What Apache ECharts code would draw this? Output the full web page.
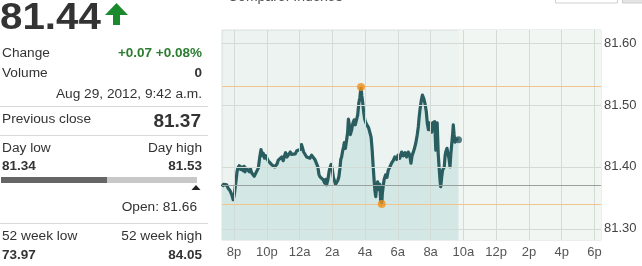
<!DOCTYPE html>
<html><head><meta charset="utf-8">
<script src="https://cdn.jsdelivr.net/npm/echarts@6/dist/echarts.min.js"></script>
<style>html,body{margin:0;padding:0;background:#fff}#c{width:642px;height:266px}</style>
</head><body><div id="c"></div>
<script>
// ---- data ----
const lastPrice = '81.44';
const changeText = '+0.07 +0.08%';
const volumeText = '0';
const stampText = 'Aug 29, 2012, 9:42 a.m.';
const prevClose = 81.37;
const dayLow = 81.34;
const dayHigh = 81.53;
const openText = 'Open: 81.66';
const week52Low = '73.97';
const week52High = '84.05';
const yTicks = [81.30, 81.40, 81.50, 81.60];
const xTicks = ['2012-08-28 20:00','2012-08-28 22:00','2012-08-29 00:00','2012-08-29 02:00','2012-08-29 04:00','2012-08-29 06:00',
  '2012-08-29 08:00','2012-08-29 10:00','2012-08-29 12:00','2012-08-29 14:00','2012-08-29 16:00','2012-08-29 18:00'];
const xTickLabels = ['8p','10p','12a','2a','4a','6a','8a','10a','12p','2p','4p','6p'];
const xStart = '2012-08-28 19:16';
const xEnd = '2012-08-29 18:24';
const times = [
'2012-08-28 19:16','2012-08-28 19:22','2012-08-28 19:28','2012-08-28 19:33','2012-08-28 19:38','2012-08-28 19:42','2012-08-28 19:45','2012-08-28 19:50','2012-08-28 19:54','2012-08-28 19:57',
'2012-08-28 20:01','2012-08-28 20:04','2012-08-28 20:08','2012-08-28 20:11','2012-08-28 20:14','2012-08-28 20:19','2012-08-28 20:24','2012-08-28 20:28','2012-08-28 20:33','2012-08-28 20:37',
'2012-08-28 20:40','2012-08-28 20:45','2012-08-28 20:51','2012-08-28 20:56','2012-08-28 21:00','2012-08-28 21:05','2012-08-28 21:10','2012-08-28 21:14','2012-08-28 21:17','2012-08-28 21:22',
'2012-08-28 21:29','2012-08-28 21:34','2012-08-28 21:39','2012-08-28 21:43','2012-08-28 21:47','2012-08-28 21:52','2012-08-28 21:56','2012-08-28 22:00','2012-08-28 22:05','2012-08-28 22:12',
'2012-08-28 22:17','2012-08-28 22:24','2012-08-28 22:29','2012-08-28 22:33','2012-08-28 22:38','2012-08-28 22:42','2012-08-28 22:48','2012-08-28 22:55','2012-08-28 23:00','2012-08-28 23:05',
'2012-08-28 23:09','2012-08-28 23:14','2012-08-28 23:21','2012-08-28 23:26','2012-08-28 23:31','2012-08-28 23:37','2012-08-28 23:44','2012-08-28 23:50','2012-08-28 23:55','2012-08-29 00:02',
'2012-08-29 00:07','2012-08-29 00:10','2012-08-29 00:15','2012-08-29 00:20','2012-08-29 00:26','2012-08-29 00:32','2012-08-29 00:38','2012-08-29 00:44','2012-08-29 00:50','2012-08-29 00:56',
'2012-08-29 01:03','2012-08-29 01:07','2012-08-29 01:11','2012-08-29 01:15','2012-08-29 01:21','2012-08-29 01:27','2012-08-29 01:32','2012-08-29 01:36','2012-08-29 01:39','2012-08-29 01:44',
'2012-08-29 01:48','2012-08-29 01:51','2012-08-29 01:56','2012-08-29 02:00','2012-08-29 02:04','2012-08-29 02:07','2012-08-29 02:12','2012-08-29 02:16','2012-08-29 02:20','2012-08-29 02:24',
'2012-08-29 02:28','2012-08-29 02:31','2012-08-29 02:34','2012-08-29 02:38','2012-08-29 02:41','2012-08-29 02:44','2012-08-29 02:48','2012-08-29 02:52','2012-08-29 02:56','2012-08-29 02:59',
'2012-08-29 03:02','2012-08-29 03:06','2012-08-29 03:11','2012-08-29 03:15','2012-08-29 03:20','2012-08-29 03:24','2012-08-29 03:29','2012-08-29 03:33','2012-08-29 03:37','2012-08-29 03:41',
'2012-08-29 03:45','2012-08-29 03:48','2012-08-29 03:51','2012-08-29 03:55','2012-08-29 03:59','2012-08-29 04:04','2012-08-29 04:09','2012-08-29 04:13','2012-08-29 04:18','2012-08-29 04:22',
'2012-08-29 04:26','2012-08-29 04:29','2012-08-29 04:33','2012-08-29 04:36','2012-08-29 04:39','2012-08-29 04:42','2012-08-29 04:46','2012-08-29 04:49','2012-08-29 04:51','2012-08-29 04:54',
'2012-08-29 04:57','2012-08-29 05:01','2012-08-29 05:03','2012-08-29 05:06','2012-08-29 05:10','2012-08-29 05:15','2012-08-29 05:20','2012-08-29 05:25','2012-08-29 05:31','2012-08-29 05:37',
'2012-08-29 05:43','2012-08-29 05:49','2012-08-29 05:55','2012-08-29 06:01','2012-08-29 06:07','2012-08-29 06:14','2012-08-29 06:20','2012-08-29 06:26','2012-08-29 06:32','2012-08-29 06:38',
'2012-08-29 06:43','2012-08-29 06:48','2012-08-29 06:52','2012-08-29 06:56','2012-08-29 07:01','2012-08-29 07:06','2012-08-29 07:11','2012-08-29 07:15','2012-08-29 07:18','2012-08-29 07:21',
'2012-08-29 07:26','2012-08-29 07:30','2012-08-29 07:35','2012-08-29 07:39','2012-08-29 07:44','2012-08-29 07:48','2012-08-29 07:52','2012-08-29 07:55','2012-08-29 08:00','2012-08-29 08:04',
'2012-08-29 08:07','2012-08-29 08:11','2012-08-29 08:15','2012-08-29 08:19','2012-08-29 08:22','2012-08-29 08:24','2012-08-29 08:28','2012-08-29 08:31','2012-08-29 08:35','2012-08-29 08:37',
'2012-08-29 08:41','2012-08-29 08:44','2012-08-29 08:47','2012-08-29 08:50','2012-08-29 08:53','2012-08-29 08:56','2012-08-29 09:00','2012-08-29 09:04','2012-08-29 09:08','2012-08-29 09:11',
'2012-08-29 09:14','2012-08-29 09:17','2012-08-29 09:21','2012-08-29 09:23','2012-08-29 09:26','2012-08-29 09:29','2012-08-29 09:33','2012-08-29 09:37','2012-08-29 09:42'
];
const prices = [
81.368,81.372,81.370,81.371,81.366,81.369,81.362,81.357,81.352,81.347,
81.355,81.358,81.380,81.392,81.398,81.402,81.396,81.400,81.394,81.401,
81.392,81.398,81.395,81.392,81.397,81.390,81.392,81.385,81.387,81.392,
81.398,81.415,81.428,81.418,81.422,81.414,81.418,81.416,81.410,81.411,
81.404,81.406,81.400,81.397,81.405,81.411,81.414,81.416,81.410,81.418,
81.423,81.416,81.418,81.424,81.420,81.423,81.421,81.426,81.423,81.428,
81.436,81.432,81.424,81.423,81.416,81.418,81.414,81.419,81.416,81.412,
81.414,81.400,81.388,81.384,81.381,81.379,81.374,81.380,81.371,81.380,
81.392,81.398,81.404,81.396,81.383,81.379,81.372,81.371,81.378,81.384,
81.398,81.412,81.416,81.426,81.432,81.439,81.430,81.432,81.455,81.477,
81.468,81.452,81.460,81.470,81.476,81.468,81.471,81.484,81.503,81.512,
81.529,81.515,81.505,81.488,81.476,81.470,81.468,81.463,81.460,81.448,
81.427,81.405,81.379,81.362,81.352,81.368,81.376,81.370,81.363,81.372,
81.347,81.340,81.356,81.368,81.380,81.387,81.383,81.395,81.400,81.406,
81.410,81.416,81.412,81.419,81.414,81.424,81.418,81.423,81.416,81.424,
81.420,81.406,81.418,81.423,81.430,81.439,81.452,81.465,81.480,81.492,
81.508,81.516,81.510,81.503,81.490,81.470,81.460,81.471,81.462,81.456,
81.471,81.468,81.473,81.427,81.455,81.471,81.420,81.400,81.376,81.368,
81.385,81.395,81.392,81.400,81.418,81.425,81.430,81.427,81.412,81.400,
81.420,81.435,81.455,81.468,81.452,81.440,81.445,81.447,81.444
];
const highPoint = ['2012-08-29 03:45', 81.529];
const lowPoint = ['2012-08-29 05:01', 81.340];

// ---- chart ----
const ms = t => echarts.time.parse(t).getTime();
const chart = echarts.init(document.getElementById('c'), null, {renderer: 'canvas'});
const seriesData = times.map((t, i) => [ms(t), prices[i]]);
const lastPt = seriesData[seriesData.length - 1];
const FONT = 'Liberation Sans, Arial, sans-serif';
const txt = (text, x, y, o) => Object.assign({
  type: 'text', x: x, y: y,
  style: Object.assign({text: text, font: '13.7px ' + FONT, fill: '#333', verticalAlign: 'middle', align: 'left'}, o || {})
});
const hline = (y) => ({type: 'line', shape: {x1: 0, y1: y, x2: 208, y2: y}, style: {stroke: '#d9d9d9', lineWidth: 1}});
const xTickMs = xTicks.map(ms);
function hourLabel(v) {
  const i = xTickMs.indexOf(Math.round(v));
  return i >= 0 ? xTickLabels[i] : '';
}
const gridLineStyle = {color: '#d3dbd7', width: 1, type: 'solid'};

chart.setOption({
  animation: false,
  grid: {left: 222, right: 41, top: 30, bottom: 26, show: true, backgroundColor: '#edf3f0', borderColor: '#d6dedb', borderWidth: 1},
  xAxis: {
    type: 'value', min: ms(xStart), max: ms(xEnd),
    axisLine: {show: false}, axisTick: {show: false, customValues: xTickMs},
    splitLine: {show: false},
    axisLabel: {customValues: xTickMs, formatter: hourLabel, color: '#555', fontSize: 13, fontFamily: FONT, margin: 6}
  },
  yAxis: {
    type: 'value', position: 'right', min: 81.282, max: 81.621, scale: true,
    axisLine: {show: false}, axisTick: {show: false, customValues: yTicks},
    splitLine: {show: false},
    axisLabel: {customValues: yTicks, formatter: v => v.toFixed(2), color: '#444', fontSize: 13, fontFamily: FONT, margin: 3}
  },
  series: [
    {
      type: 'line', data: seriesData, showSymbol: false, symbol: 'none',
      lineStyle: {color: '#295d60', width: 3.2, join: 'round'},
      areaStyle: {color: '#d3e8e5', opacity: 1},
      z: 3,
      markArea: {silent: true, itemStyle: {color: '#f1f6f2'}, data: [[{xAxis: lastPt[0]}, {xAxis: ms(xEnd)}]]},
      markLine: {
        silent: true, symbol: 'none', label: {show: false}, animation: false,
        data: yTicks.map(v => ({yAxis: v, lineStyle: gridLineStyle}))
          .concat(xTickMs.map(t => ({xAxis: t, lineStyle: gridLineStyle})))
          .concat([
            {yAxis: dayHigh, lineStyle: {color: '#f0c48a', width: 1, type: 'solid'}},
            {yAxis: dayLow, lineStyle: {color: '#f0c48a', width: 1, type: 'solid'}},
            {yAxis: prevClose, lineStyle: {color: '#9aa09d', width: 1, type: 'solid'}}
          ])
      }
    },
    {type: 'scatter', data: [[ms(highPoint[0]), highPoint[1]], [ms(lowPoint[0]), lowPoint[1]]], symbolSize: 8, itemStyle: {color: '#f0921e'}, z: 5, silent: true},
    {type: 'scatter', data: [lastPt], symbolSize: 7, itemStyle: {color: '#295d60'}, z: 5, silent: true}
  ],
  graphic: [
    {type: 'text', x: 0, y: 1, scaleX: 1.12, style: {text: lastPrice, font: 'bold 36px ' + FONT, fill: '#333', verticalAlign: 'top'}},
    {type: 'polygon', shape: {points: [[105, 15], [116.5, 3], [128, 15]]}, style: {fill: '#1b8a2f'}},
    {type: 'rect', shape: {x: 113, y: 14, width: 7, height: 11}, style: {fill: '#1b8a2f'}},
    txt('Change', 2, 53),
    txt(changeText, 202, 53, {align: 'right', font: 'bold 13.5px ' + FONT, fill: '#2a7d2e'}),
    txt('Volume', 2, 73),
    txt(volumeText, 202, 73, {align: 'right', font: 'bold 13.5px ' + FONT}),
    txt(stampText, 202, 94, {align: 'right'}),
    hline(106.5),
    txt('Previous close', 2, 119),
    txt(prevClose.toFixed(2), 201, 122, {align: 'right', font: 'bold 19px ' + FONT}),
    hline(135.5),
    txt('Day low', 2, 148),
    txt('Day high', 202, 148, {align: 'right'}),
    txt(dayLow.toFixed(2), 2, 166, {font: 'bold 13.5px ' + FONT}),
    txt(dayHigh.toFixed(2), 202, 166, {align: 'right', font: 'bold 13.5px ' + FONT}),
    {type: 'rect', shape: {x: 1, y: 177, width: 106, height: 6}, style: {fill: '#666'}},
    {type: 'rect', shape: {x: 107, y: 177, width: 90, height: 6}, style: {fill: '#c8c8c8'}},
    {type: 'polygon', shape: {points: [[196, 185], [191.5, 190], [200.5, 190]]}, style: {fill: '#222'}},
    txt(openText, 197, 207.5, {align: 'right'}),
    hline(223.5),
    txt('52 week low', 2, 236),
    txt('52 week high', 202, 236, {align: 'right'}),
    txt(week52Low, 2, 255, {font: 'bold 13.5px ' + FONT}),
    txt(week52High, 202, 255, {align: 'right', font: 'bold 13.5px ' + FONT}),
    {type: 'text', x: 228, y: 4, style: {text: 'Compare: Indexes', font: '14px ' + FONT, fill: '#555', verticalAlign: 'bottom'}},
    {type: 'rect', shape: {x: 555.5, y: -20, width: 62, height: 23}, style: {fill: '#fff', stroke: '#cfcfcf', lineWidth: 1}},
    {type: 'rect', shape: {x: 622.5, y: -20, width: 25, height: 23}, style: {fill: '#e4e4e4', stroke: '#cfcfcf', lineWidth: 1}}
  ]
});
</script>
</body></html>
